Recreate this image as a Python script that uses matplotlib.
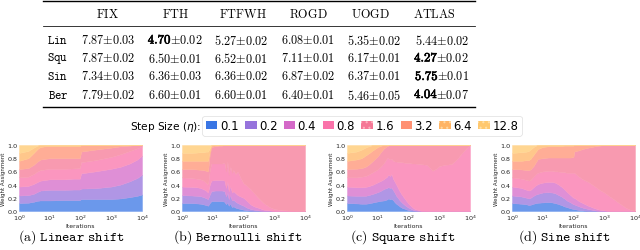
import numpy as np
import matplotlib
matplotlib.use('Agg')
import matplotlib.pyplot as plt
import matplotlib.patheffects as pe
from matplotlib.patches import Patch
from matplotlib.lines import Line2D
from matplotlib.colors import to_rgb

# ---------------- table data ----------------
methods = ['FIX', 'FTH', 'FTFWH', 'ROGD', 'UOGD', 'ATLAS']
shifts = ['Lin', 'Squ', 'Sin', 'Ber']
means = [[7.87, 4.70, 5.27, 6.08, 5.35, 5.44],
         [7.87, 6.50, 6.52, 7.11, 6.17, 4.27],
         [7.34, 6.36, 6.36, 6.87, 6.37, 5.75],
         [7.79, 6.60, 6.60, 6.40, 5.46, 4.04]]
stds = [[0.03, 0.02, 0.02, 0.01, 0.02, 0.02],
        [0.02, 0.01, 0.01, 0.01, 0.01, 0.02],
        [0.03, 0.03, 0.02, 0.02, 0.01, 0.01],
        [0.02, 0.01, 0.01, 0.01, 0.05, 0.07]]
best = [1, 5, 5, 5]

# ---------------- legend ----------------
step_sizes = ['0.1', '0.2', '0.4', '0.8', '1.6', '3.2', '6.4', '12.8']
colors = ['#3a76e4', '#9673dc', '#d469c8', '#fa73aa', '#f57896', '#ff9173', '#ffb464', '#ffc86e']
hatched = [False, False, False, False, True, False, True, True]

# ---------------- weight assignment (cumulative boundaries, bottom->top) ----------------
lin_x = [1, 2, 3, 4, 5, 7, 10, 30, 60, 95, 105, 300, 1000, 2000, 4000, 7000, 10000]
lin_cum = [
    [0.12, 0.125, 0.14, 0.155, 0.16, 0.16, 0.16, 0.165, 0.165, 0.165, 0.18, 0.18, 0.18, 0.19, 0.21, 0.23, 0.25],
    [0.235, 0.24, 0.26, 0.29, 0.31, 0.315, 0.32, 0.32, 0.325, 0.325, 0.34, 0.345, 0.37, 0.40, 0.45, 0.50, 0.55],
    [0.37, 0.38, 0.41, 0.44, 0.46, 0.47, 0.48, 0.48, 0.49, 0.49, 0.57, 0.60, 0.64, 0.67, 0.72, 0.78, 0.84],
    [0.51, 0.52, 0.56, 0.60, 0.62, 0.63, 0.64, 0.64, 0.645, 0.65, 0.74, 0.77, 0.82, 0.86, 0.91, 0.95, 0.98],
    [0.635, 0.65, 0.70, 0.75, 0.78, 0.79, 0.80, 0.80, 0.80, 0.80, 0.90, 0.93, 0.96, 0.98, 0.99, 1.0, 1.0],
    [0.76, 0.80, 0.88, 0.94, 0.97, 0.98, 0.98, 0.98, 0.98, 0.98, 1.0, 1.0, 1.0, 1.0, 1.0, 1.0, 1.0],
    [0.88, 0.91, 0.96, 0.99, 1.0, 1.0, 1.0, 1.0, 1.0, 1.0, 1.0, 1.0, 1.0, 1.0, 1.0, 1.0, 1.0],
]

ber_x = [1, 2, 3, 4, 5, 6, 7, 8, 9, 12, 16, 20, 24, 27, 30, 33, 37, 42, 47, 55, 65, 80, 100,
         130, 170, 220, 300, 450, 700, 1000, 2000, 10000]
ber_cum = [
    [0.12, 0.12, 0.115, 0.11, 0.10, 0.09, 0.08, 0.12, 0.15, 0.15, 0.15, 0.15, 0.14, 0.10, 0.13, 0.08,
     0.11, 0.06, 0.07, 0.05, 0.04, 0.03, 0.02, 0.01, 0.005, 0, 0, 0, 0, 0, 0, 0],
    [0.24, 0.235, 0.23, 0.225, 0.21, 0.195, 0.18, 0.25, 0.30, 0.31, 0.31, 0.31, 0.30, 0.22, 0.28, 0.18,
     0.24, 0.16, 0.17, 0.14, 0.12, 0.10, 0.08, 0.05, 0.03, 0.02, 0.01, 0, 0, 0, 0, 0],
    [0.37, 0.365, 0.36, 0.35, 0.33, 0.31, 0.28, 0.40, 0.46, 0.47, 0.47, 0.47, 0.46, 0.35, 0.44, 0.30,
     0.38, 0.28, 0.30, 0.27, 0.24, 0.22, 0.20, 0.15, 0.10, 0.07, 0.05, 0.02, 0.01, 0, 0, 0],
    [0.51, 0.50, 0.49, 0.48, 0.46, 0.43, 0.40, 0.62, 0.72, 0.72, 0.72, 0.72, 0.73, 0.60, 0.75, 0.55,
     0.68, 0.58, 0.62, 0.56, 0.60, 0.50, 0.42, 0.38, 0.33, 0.27, 0.20, 0.12, 0.06, 0.03, 0.01, 0],
    [0.635, 0.635, 0.63, 0.625, 0.62, 0.61, 0.60, 0.85, 0.97, 0.98, 0.99, 0.99] + [1.0] * 20,
    [0.76, 0.76, 0.76, 0.76, 0.76, 0.76, 0.76, 0.90, 0.99] + [1.0] * 23,
    [0.88, 0.88, 0.885, 0.89, 0.89, 0.90, 0.90, 0.95, 1.0] + [1.0] * 23,
]

squ_x = [1, 2, 3, 4, 5, 7, 10, 13, 16, 20, 22, 25, 28, 32, 36, 40, 50, 60, 80, 100, 130, 160,
         250, 400, 600, 800, 1000, 1500, 2500, 4000, 6000, 8000, 10000]
squ_cum = [
    [0.12, 0.115, 0.11, 0.11, 0.115, 0.13, 0.145, 0.155, 0.16, 0.175, 0.19, 0.18, 0.185, 0.16, 0.13,
     0.11, 0.075, 0.05, 0.03, 0.012, 0.004] + [0] * 12,
    [0.235, 0.23, 0.23, 0.23, 0.24, 0.26, 0.285, 0.31, 0.335, 0.35, 0.36, 0.35, 0.355, 0.31, 0.27,
     0.23, 0.17, 0.13, 0.08, 0.05, 0.025, 0.01] + [0] * 11,
    [0.37, 0.36, 0.36, 0.365, 0.375, 0.40, 0.435, 0.46, 0.485, 0.52, 0.55, 0.53, 0.56, 0.48, 0.44,
     0.40, 0.31, 0.25, 0.17, 0.11, 0.06, 0.03, 0.005] + [0] * 10,
    [0.51, 0.51, 0.52, 0.53, 0.55, 0.59, 0.63, 0.68, 0.73, 0.80, 0.80, 0.78, 0.79, 0.76, 0.75, 0.75,
     0.74, 0.74, 0.73, 0.73, 0.72, 0.72, 0.71, 0.70, 0.61, 0.64, 0.68, 0.70, 0.71, 0.80, 0.90, 0.96, 1.0],
    [0.635, 0.64, 0.65, 0.67, 0.70, 0.76, 0.83, 0.90, 0.95, 0.98, 0.99] + [1.0] * 22,
    [0.76, 0.78, 0.80, 0.84, 0.87, 0.92, 0.97, 0.99] + [1.0] * 25,
    [0.88, 0.90, 0.93, 0.96, 0.98] + [1.0] * 28,
]

sin_x = [1, 2, 3, 3.5, 4, 5, 6, 7, 10, 15, 20, 25, 30, 40, 50, 60, 80, 100, 105, 150, 200, 300,
         500, 700, 1000, 1500, 2000, 3000, 5000, 7000, 10000]
sin_cum = [
    [0.12, 0.11, 0.10, 0.09, 0.095, 0.11, 0.12, 0.125, 0.13, 0.135, 0.13, 0.12, 0.11, 0.09, 0.07,
     0.06, 0.04, 0.03, 0.03, 0.015, 0.01] + [0] * 10,
    [0.235, 0.22, 0.20, 0.19, 0.20, 0.23, 0.25, 0.26, 0.28, 0.285, 0.28, 0.27, 0.25, 0.22, 0.19,
     0.16, 0.13, 0.10, 0.10, 0.07, 0.05, 0.03, 0.01] + [0] * 8,
    [0.37, 0.35, 0.32, 0.31, 0.32, 0.36, 0.39, 0.41, 0.43, 0.44, 0.44, 0.43, 0.41, 0.37, 0.33,
     0.29, 0.24, 0.20, 0.20, 0.15, 0.12, 0.08, 0.04, 0.02, 0.01] + [0] * 6,
    [0.51, 0.49, 0.47, 0.46, 0.47, 0.52, 0.56, 0.58, 0.60, 0.61, 0.61, 0.60, 0.60, 0.59, 0.59,
     0.58, 0.58, 0.58, 0.58, 0.52, 0.48, 0.44, 0.37, 0.32, 0.28, 0.22, 0.18, 0.12, 0.05, 0.02, 0],
    [0.635, 0.63, 0.62, 0.62, 0.63, 0.68, 0.74, 0.79, 0.80, 0.81, 0.81, 0.81, 0.81, 0.81, 0.81,
     0.81, 0.81, 0.82, 0.90, 0.92, 0.94, 0.96, 0.98, 0.99] + [1.0] * 7,
    [0.76, 0.76, 0.77, 0.77, 0.79, 0.85, 0.90, 0.94, 0.97, 0.98, 0.98, 0.98, 0.98, 0.98, 0.99,
     0.99, 0.99, 0.99] + [1.0] * 13,
    [0.88, 0.89, 0.90, 0.91, 0.93, 0.97, 0.99] + [1.0] * 24,
]

panels = [
    (lin_x, lin_cum, r'$\mathrm{(a)}\ \mathtt{Linear\ shift}$'),
    (ber_x, ber_cum, r'$\mathrm{(b)}\ \mathtt{Bernoulli\ shift}$'),
    (squ_x, squ_cum, r'$\mathrm{(c)}\ \mathtt{Square\ shift}$'),
    (sin_x, sin_cum, r'$\mathrm{(d)}\ \mathtt{Sine\ shift}$'),
]

W, H = 640, 251
plt.rcParams['hatch.linewidth'] = 0.8
fig = plt.figure(figsize=(W / 100, H / 100), dpi=100)
renderer = fig.canvas.get_renderer()


def fx(px):
    return px / W


def fy(py):
    return 1 - py / H


# ---------------- table ----------------
x0, x1 = 43, 475
for ypx, lw in [(1.5, 1.0), (26.7, 0.55), (107.7, 1.0)]:
    fig.add_artist(Line2D([fx(x0), fx(x1)], [fy(ypx), fy(ypx)], transform=fig.transFigure,
                          color='black', lw=lw))

hdr_x = [108, 176, 243, 308, 370, 434]
val_x = [108, 175, 241, 308, 374, 469]
row_y = [41, 59, 77, 95.5]
fs = 8.8
bold_fx = [pe.withStroke(linewidth=0.45, foreground='black')]
gap_fix = 2.2  # px: trims the extra space at the right of the bold mathtext box
for j, m in enumerate(methods):
    fig.text(fx(hdr_x[j]), fy(14), r'$\mathrm{%s}$' % m, math_fontfamily='cm',
             fontsize=fs, ha='center', va='center')
for i, s in enumerate(shifts):
    fig.text(fx(58), fy(row_y[i]), r'$\mathtt{%s}$' % s, math_fontfamily='cm',
             fontsize=fs, ha='center', va='center')
    for j in range(len(methods)):
        mv = '%.2f' % means[i][j]
        sv = '%.2f' % stds[i][j]
        last = (j == len(methods) - 1)
        if best[i] == j:
            t1 = fig.text(0, fy(row_y[i]), r'$\mathbf{%s}$' % mv, math_fontfamily='cm',
                          fontsize=fs + 0.4, ha='right', va='center', path_effects=bold_fx)
            t2 = fig.text(0, fy(row_y[i]), r'${\pm}%s$' % sv, math_fontfamily='cm',
                          fontsize=fs, ha='left', va='center')
            w1 = t1.get_window_extent(renderer).width - gap_fix
            w2 = t2.get_window_extent(renderer).width
            if last:
                junction = val_x[j] - w2
            else:
                junction = val_x[j] - (w1 + w2) / 2 + w1
            t1.set_x(fx(junction + gap_fix))
            t2.set_x(fx(junction))
        else:
            fig.text(fx(val_x[j]), fy(row_y[i]), r'$%s{\pm}%s$' % (mv, sv), math_fontfamily='cm',
                     fontsize=fs, ha='right' if last else 'center', va='center')

# ---------------- legend ----------------
area_colors = []
for c in colors:
    r, g, b = to_rgb(c)
    a = 0.75
    area_colors.append((a * r + 1 - a, a * g + 1 - a, a * b + 1 - a))

hatch_cols = {4: '#ffb0c0', 6: '#ffd8a0', 7: '#ffe0a8'}
handles = []
for k, (c, h) in enumerate(zip(colors, hatched)):
    handles.append(Patch(facecolor=c, edgecolor=hatch_cols.get(k, c),
                         hatch='...' if h else None, lw=0))
leg = fig.legend(handles, step_sizes, ncol=8, loc='center',
                 bbox_to_anchor=(fx(362), fy(126.5)), fontsize=8.4,
                 handlelength=1.0, handleheight=0.75, handletextpad=0.2,
                 columnspacing=0.55, borderpad=0.3, frameon=True, fancybox=True,
                 edgecolor='#dddddd', borderaxespad=0)
leg.get_frame().set_linewidth(0.6)
fig.text(fx(201), fy(127), r'Step Size ($\eta$):', fontsize=7.6, ha='right', va='center')

# ---------------- panels ----------------
ax_left = [19, 182, 347, 512]
cap_x = [72, 238, 403, 565]
ax_w = 123
for k, (xs, cum, cap) in enumerate(panels):
    ax = fig.add_axes([fx(ax_left[k]), fy(212), fx(ax_w), (212 - 146) / H])
    cum_arr = np.vstack([np.zeros(len(xs))] + [np.array(c, float) for c in cum] + [np.ones(len(xs))])
    layers = np.clip(np.diff(cum_arr, axis=0), 0, None)
    ax.stackplot(xs, layers, colors=area_colors, edgecolor='face', linewidth=0.3)
    ax.set_xscale('log')
    ax.set_xlim(1, 1e4)
    ax.set_ylim(0, 1)
    ax.set_xticks([1, 10, 100, 1000, 10000])
    ax.set_yticks([0, 0.2, 0.4, 0.6, 0.8, 1.0])
    ax.set_yticklabels(['0.0', '0.2', '0.4', '0.6', '0.8', '1.0'])
    ax.minorticks_off()
    for sp in ax.spines.values():
        sp.set_visible(False)
    ax.tick_params(length=0, labelsize=4.6, pad=1.2, colors='#222222')
    ax.set_xlabel('Iterations', fontsize=4.4, labelpad=1, color='#222222')
    ax.set_ylabel('Weight Assignment', fontsize=4.0, labelpad=1, color='#222222')
    fig.text(fx(cap_x[k]), fy(237), cap, math_fontfamily='cm', fontsize=10,
             ha='center', va='center')

fig.savefig('out.png', dpi=100)
